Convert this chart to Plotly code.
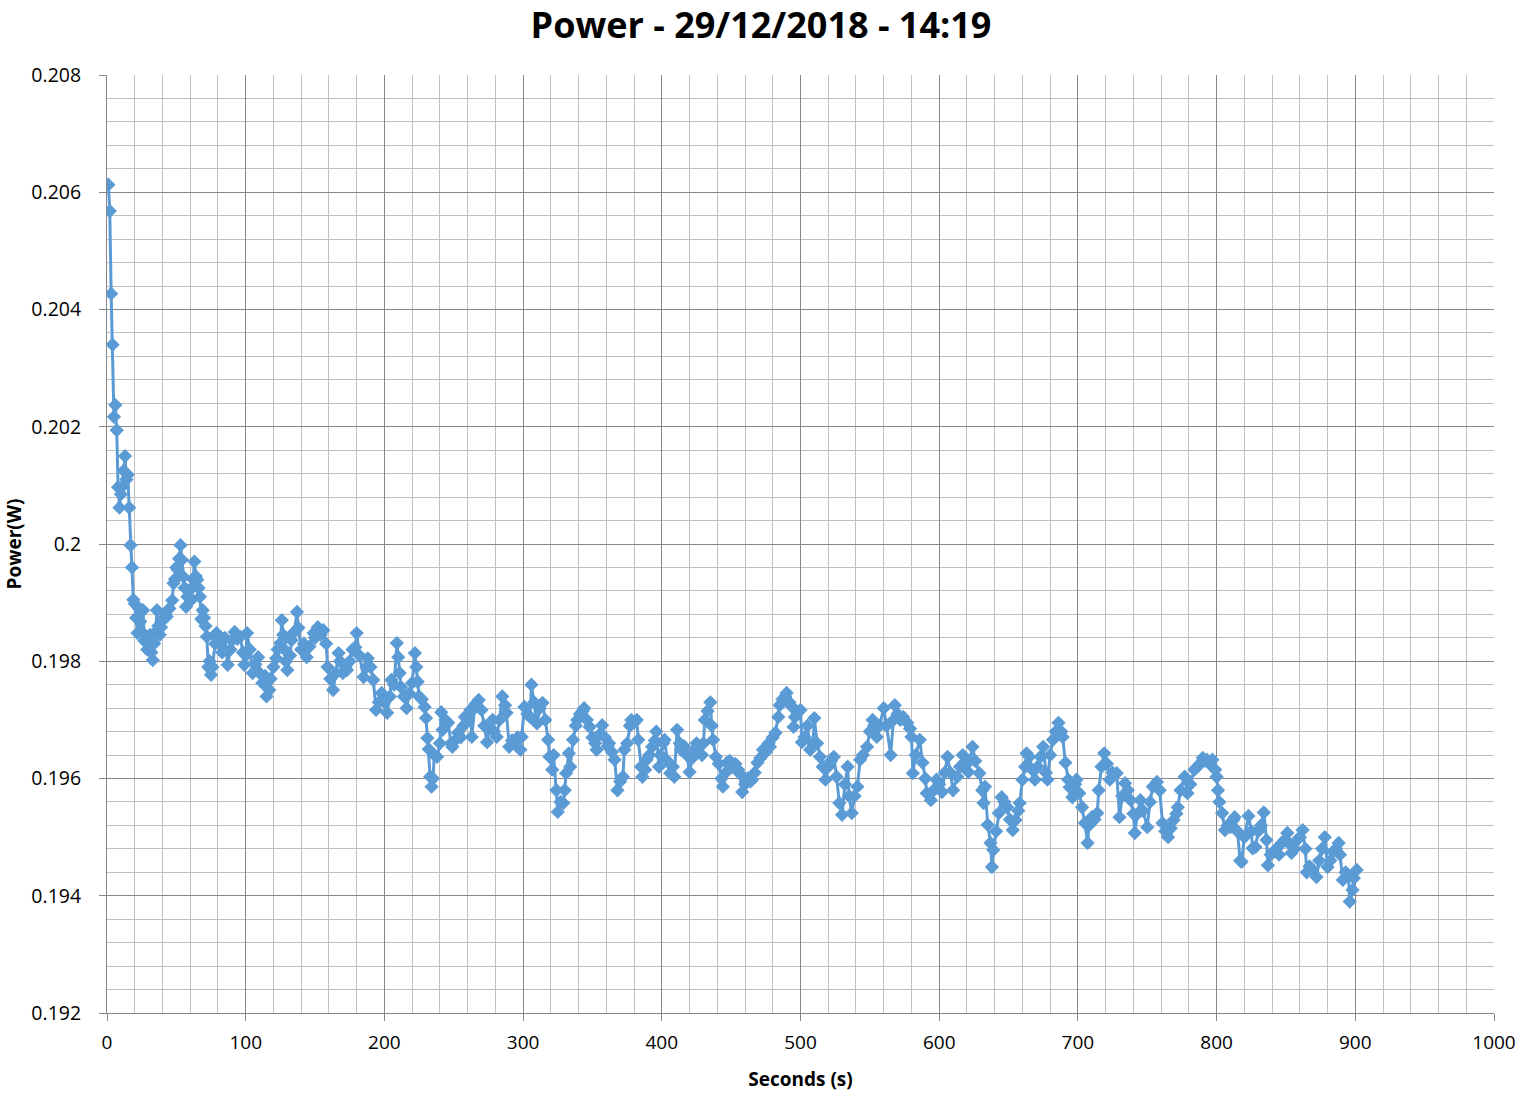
import plotly.graph_objects as go

seconds = [
    1, 2, 3, 4, 5, 6, 7, 8, 9, 10, 11, 12, 13, 14, 15, 16, 17, 18, 19, 20,
    21, 22, 23, 24, 25, 26, 27, 28, 29, 30, 31, 32, 33, 34, 35, 36, 37, 38, 39, 40,
    42, 43, 45, 47, 48, 49, 50, 51, 52, 53, 54, 55, 56, 57, 58, 60, 61, 62, 63, 64,
    65, 66, 67, 68, 69, 70, 71, 72, 73, 74, 75, 76, 78, 79, 80, 81, 83, 85, 87, 89,
    90, 92, 94, 96, 98, 99, 100, 101, 103, 105, 107, 109, 110, 112, 114, 115, 117, 118, 120, 122,
    123, 125, 126, 127, 128, 129, 130, 132, 133, 135, 137, 138, 140, 142, 144, 146, 149, 150, 152, 154,
    156, 158, 159, 161, 163, 165, 167, 168, 170, 172, 173, 175, 177, 179, 180, 182, 185, 187, 188, 190,
    192, 194, 196, 198, 200, 202, 204, 205, 207, 209, 210, 211, 212, 214, 216, 218, 220, 222, 223, 224,
    225, 227, 229, 230, 231, 232, 233, 234, 235, 236, 238, 240, 241, 242, 244, 246, 248, 249, 251, 253,
    255, 257, 258, 260, 262, 263, 265, 266, 268, 270, 272, 274, 276, 278, 279, 281, 283, 285, 287, 288,
    290, 292, 294, 296, 298, 299, 301, 303, 305, 306, 308, 310, 312, 314, 316, 318, 319, 321, 322, 324,
    325, 327, 329, 330, 331, 333, 334, 336, 338, 339, 341, 343, 344, 346, 348, 350, 352, 353, 355, 357,
    359, 361, 362, 364, 366, 368, 370, 372, 373, 375, 377, 378, 380, 382, 383, 385, 386, 388, 389, 391,
    393, 395, 396, 398, 399, 401, 402, 404, 406, 408, 409, 411, 413, 414, 416, 418, 420, 422, 424, 425,
    427, 429, 430, 431, 433, 435, 436, 437, 439, 441, 443, 444, 446, 447, 449, 451, 453, 455, 456, 458,
    460, 462, 464, 465, 467, 469, 471, 473, 475, 477, 478, 480, 482, 484, 485, 487, 489, 490, 492, 494,
    495, 496, 498, 500, 501, 503, 505, 507, 509, 510, 512, 514, 516, 518, 520, 522, 524, 526, 528, 530,
    532, 534, 535, 537, 539, 541, 543, 545, 548, 550, 552, 553, 555, 557, 560, 562, 565, 567, 568, 570,
    572, 574, 577, 579, 580, 581, 583, 586, 588, 590, 591, 594, 596, 598, 600, 602, 604, 606, 608, 610,
    613, 615, 617, 619, 621, 622, 624, 626, 629, 631, 632, 633, 635, 637, 638, 639, 641, 643, 645, 647,
    649, 651, 653, 655, 657, 658, 660, 662, 663, 665, 667, 669, 671, 673, 675, 677, 678, 680, 682, 684,
    686, 688, 689, 691, 693, 694, 696, 698, 699, 701, 703, 705, 707, 708, 710, 712, 714, 715, 717, 719,
    721, 723, 725, 728, 730, 732, 734, 736, 738, 740, 741, 743, 745, 747, 750, 752, 754, 757, 759, 761,
    763, 765, 767, 769, 771, 772, 774, 777, 779, 781, 784, 786, 788, 790, 792, 793, 795, 797, 799, 800,
    801, 802, 804, 806, 808, 810, 812, 813, 815, 817, 818, 820, 823, 825, 826, 828, 830, 832, 834, 836,
    837, 839, 841, 843, 845, 847, 849, 851, 852, 854, 856, 858, 860, 862, 864, 865, 867, 869, 872, 874,
    876, 878, 880, 882, 884, 886, 888, 889, 891, 893, 895, 896, 898, 899, 901,
]

power_w = [
    0.20613, 0.20568, 0.20427, 0.20340, 0.20217, 0.20237, 0.20194, 0.20097, 0.20062, 0.20085,
    0.20098, 0.20125, 0.20150, 0.20110, 0.20118, 0.20062, 0.19998, 0.19960, 0.19905, 0.19898,
    0.19874, 0.19848, 0.19890, 0.19868, 0.19850, 0.19887, 0.19835, 0.19842, 0.19820, 0.19828,
    0.19845, 0.19815, 0.19802, 0.19830, 0.19850, 0.19887, 0.19860, 0.19845, 0.19858, 0.19870,
    0.19880, 0.19876, 0.19890, 0.19904, 0.19933, 0.19940, 0.19960, 0.19956, 0.19975, 0.19998,
    0.19973, 0.19944, 0.19925, 0.19893, 0.19910, 0.19922, 0.19905, 0.19940, 0.19970, 0.19945,
    0.19939, 0.19925, 0.19910, 0.19872, 0.19887, 0.19874, 0.19860, 0.19842, 0.19790, 0.19800,
    0.19777, 0.19790, 0.19830, 0.19848, 0.19838, 0.19831, 0.19815, 0.19840, 0.19794, 0.19820,
    0.19835, 0.19850, 0.19838, 0.19842, 0.19815, 0.19794, 0.19810, 0.19848, 0.19820, 0.19780,
    0.19795, 0.19807, 0.19780, 0.19763, 0.19775, 0.19740, 0.19751, 0.19770, 0.19790, 0.19805,
    0.19820, 0.19831, 0.19870, 0.19845, 0.19820, 0.19800, 0.19785, 0.19810, 0.19836, 0.19850,
    0.19884, 0.19857, 0.19820, 0.19830, 0.19807, 0.19825, 0.19848, 0.19840, 0.19858, 0.19845,
    0.19853, 0.19830, 0.19790, 0.19770, 0.19751, 0.19780, 0.19814, 0.19800, 0.19780, 0.19790,
    0.19785, 0.19800, 0.19820, 0.19824, 0.19848, 0.19810, 0.19773, 0.19790, 0.19805, 0.19790,
    0.19768, 0.19717, 0.19730, 0.19746, 0.19730, 0.19712, 0.19740, 0.19768, 0.19760, 0.19831,
    0.19807, 0.19780, 0.19756, 0.19740, 0.19720, 0.19745, 0.19763, 0.19814, 0.19790, 0.19765,
    0.19740, 0.19735, 0.19722, 0.19703, 0.19669, 0.19650, 0.19603, 0.19586, 0.19600, 0.19640,
    0.19637, 0.19660, 0.19713, 0.19683, 0.19700, 0.19695, 0.19660, 0.19654, 0.19665, 0.19678,
    0.19670, 0.19690, 0.19705, 0.19700, 0.19717, 0.19671, 0.19720, 0.19728, 0.19734, 0.19717,
    0.19690, 0.19662, 0.19685, 0.19700, 0.19680, 0.19671, 0.19700, 0.19740, 0.19725, 0.19712,
    0.19654, 0.19665, 0.19660, 0.19670, 0.19649, 0.19671, 0.19722, 0.19710, 0.19705, 0.19760,
    0.19730, 0.19694, 0.19720, 0.19729, 0.19700, 0.19666, 0.19637, 0.19615, 0.19640, 0.19580,
    0.19543, 0.19560, 0.19558, 0.19580, 0.19609, 0.19643, 0.19620, 0.19666, 0.19690, 0.19700,
    0.19710, 0.19715, 0.19720, 0.19700, 0.19688, 0.19670, 0.19660, 0.19649, 0.19675, 0.19691,
    0.19670, 0.19655, 0.19660, 0.19645, 0.19632, 0.19580, 0.19595, 0.19603, 0.19649, 0.19660,
    0.19690, 0.19700, 0.19695, 0.19700, 0.19666, 0.19620, 0.19603, 0.19615, 0.19632, 0.19640,
    0.19654, 0.19665, 0.19680, 0.19620, 0.19640, 0.19660, 0.19666, 0.19630, 0.19609, 0.19620,
    0.19603, 0.19683, 0.19660, 0.19649, 0.19655, 0.19640, 0.19611, 0.19635, 0.19650, 0.19660,
    0.19655, 0.19640, 0.19660, 0.19700, 0.19715, 0.19730, 0.19690, 0.19666, 0.19637, 0.19625,
    0.19600, 0.19586, 0.19610, 0.19627, 0.19630, 0.19620, 0.19625, 0.19615, 0.19609, 0.19577,
    0.19590, 0.19600, 0.19595, 0.19598, 0.19610, 0.19627, 0.19635, 0.19649, 0.19645, 0.19660,
    0.19654, 0.19670, 0.19678, 0.19705, 0.19725, 0.19735, 0.19740, 0.19746, 0.19730, 0.19722,
    0.19688, 0.19705, 0.19712, 0.19717, 0.19662, 0.19671, 0.19690, 0.19649, 0.19660, 0.19703,
    0.19660, 0.19637, 0.19620, 0.19598, 0.19620, 0.19630, 0.19637, 0.19603, 0.19558, 0.19538,
    0.19590, 0.19620, 0.19570, 0.19541, 0.19570, 0.19586, 0.19632, 0.19640, 0.19654, 0.19680,
    0.19700, 0.19690, 0.19671, 0.19690, 0.19720, 0.19690, 0.19640, 0.19700, 0.19725, 0.19710,
    0.19700, 0.19705, 0.19695, 0.19685, 0.19671, 0.19609, 0.19640, 0.19666, 0.19627, 0.19600,
    0.19575, 0.19563, 0.19580, 0.19598, 0.19590, 0.19577, 0.19610, 0.19637, 0.19610, 0.19580,
    0.19603, 0.19620, 0.19640, 0.19625, 0.19611, 0.19630, 0.19654, 0.19630, 0.19609, 0.19580,
    0.19558, 0.19586, 0.19521, 0.19490, 0.19449, 0.19478, 0.19510, 0.19541, 0.19568, 0.19560,
    0.19551, 0.19530, 0.19512, 0.19529, 0.19545, 0.19558, 0.19598, 0.19620, 0.19643, 0.19637,
    0.19615, 0.19598, 0.19620, 0.19637, 0.19654, 0.19610, 0.19598, 0.19640, 0.19666, 0.19680,
    0.19695, 0.19680, 0.19671, 0.19627, 0.19598, 0.19585, 0.19568, 0.19590, 0.19598, 0.19575,
    0.19551, 0.19524, 0.19490, 0.19520, 0.19534, 0.19530, 0.19541, 0.19580, 0.19620, 0.19643,
    0.19625, 0.19598, 0.19610, 0.19609, 0.19534, 0.19570, 0.19592, 0.19580, 0.19563, 0.19540,
    0.19507, 0.19540, 0.19563, 0.19545, 0.19517, 0.19560, 0.19586, 0.19594, 0.19580, 0.19524,
    0.19510, 0.19500, 0.19515, 0.19529, 0.19540, 0.19551, 0.19580, 0.19603, 0.19575, 0.19590,
    0.19615, 0.19620, 0.19625, 0.19635, 0.19630, 0.19632, 0.19625, 0.19632, 0.19615, 0.19603,
    0.19580, 0.19560, 0.19541, 0.19512, 0.19520, 0.19517, 0.19529, 0.19534, 0.19510, 0.19460,
    0.19458, 0.19500, 0.19536, 0.19510, 0.19481, 0.19483, 0.19510, 0.19520, 0.19542, 0.19495,
    0.19452, 0.19470, 0.19475, 0.19480, 0.19470, 0.19490, 0.19495, 0.19507, 0.19490, 0.19473,
    0.19480, 0.19495, 0.19500, 0.19512, 0.19480, 0.19440, 0.19450, 0.19445, 0.19432, 0.19460,
    0.19480, 0.19500, 0.19449, 0.19460, 0.19475, 0.19480, 0.19490, 0.19470, 0.19427, 0.19440,
    0.19435, 0.19390, 0.19410, 0.19430, 0.19444,
]

y_tick_vals = [0.192, 0.194, 0.196, 0.198, 0.200, 0.202, 0.204, 0.206, 0.208]
y_tick_text = ["0.192", "0.194", "0.196", "0.198", "0.2", "0.202", "0.204", "0.206", "0.208"]
x_tick_vals = [0, 100, 200, 300, 400, 500, 600, 700, 800, 900, 1000]

title_text = "Power - 29/12/2018 - 14:19"
x_title = "Seconds (s)"
y_title = "Power(W)"

BLUE = "#5B9BD5"
MAJOR = "#878787"
MINOR = "#C0C0C0"
FONT = "Open Sans, Lato, sans-serif"

W, H = 1522, 1094

fig = go.Figure()
fig.add_trace(go.Scatter(
    x=seconds, y=power_w, mode="lines+markers",
    line=dict(color=BLUE, width=3),
    marker=dict(symbol="diamond", size=11, color=BLUE, line=dict(width=0)),
    showlegend=False,
))

fig.update_layout(
    width=W, height=H,
    paper_bgcolor="white", plot_bgcolor="white",
    margin=dict(l=107, r=28, t=75, b=81, autoexpand=False),
    title=dict(text="<b>" + title_text + "</b>", x=0.5, xanchor="center",
               y=1 - 25 / H, yanchor="middle",
               font=dict(family=FONT, size=36, color="black")),
    font=dict(family=FONT, color="black"),
)

fig.update_xaxes(
    range=[0, 1000], tickvals=x_tick_vals, ticks="outside", ticklen=7,
    tickcolor=MAJOR, tickfont=dict(size=19, color="black"), ticklabelstandoff=5,
    ticklabeloverflow="allow",
    showgrid=True, gridcolor=MAJOR, gridwidth=1, automargin=False,
    minor=dict(dtick=20, showgrid=True, gridcolor=MINOR, gridwidth=1),
    showline=True, linecolor=MAJOR, linewidth=1, mirror=False, zeroline=False,
    title=dict(text="<b>" + x_title + "</b>", font=dict(size=19, color="black"), standoff=18),
)
fig.update_yaxes(
    range=[0.192, 0.208], tickvals=y_tick_vals, ticktext=y_tick_text,
    ticks="outside", ticklen=7, tickcolor=MAJOR, tickfont=dict(size=19.5, color="black"),
    ticklabelstandoff=14, automargin=False, ticklabeloverflow="allow",
    showgrid=True, gridcolor=MAJOR, gridwidth=1,
    minor=dict(dtick=0.0004, tick0=0.192, showgrid=True, gridcolor=MINOR, gridwidth=1),
    showline=True, linecolor=MAJOR, linewidth=1, zeroline=False,
    title=dict(text="<b>" + y_title + "</b>", font=dict(size=19, color="black"), standoff=4),
)

fig.write_html("out.html", config={"displayModeBar": False},
               post_script="document.body.style.margin='0';")
